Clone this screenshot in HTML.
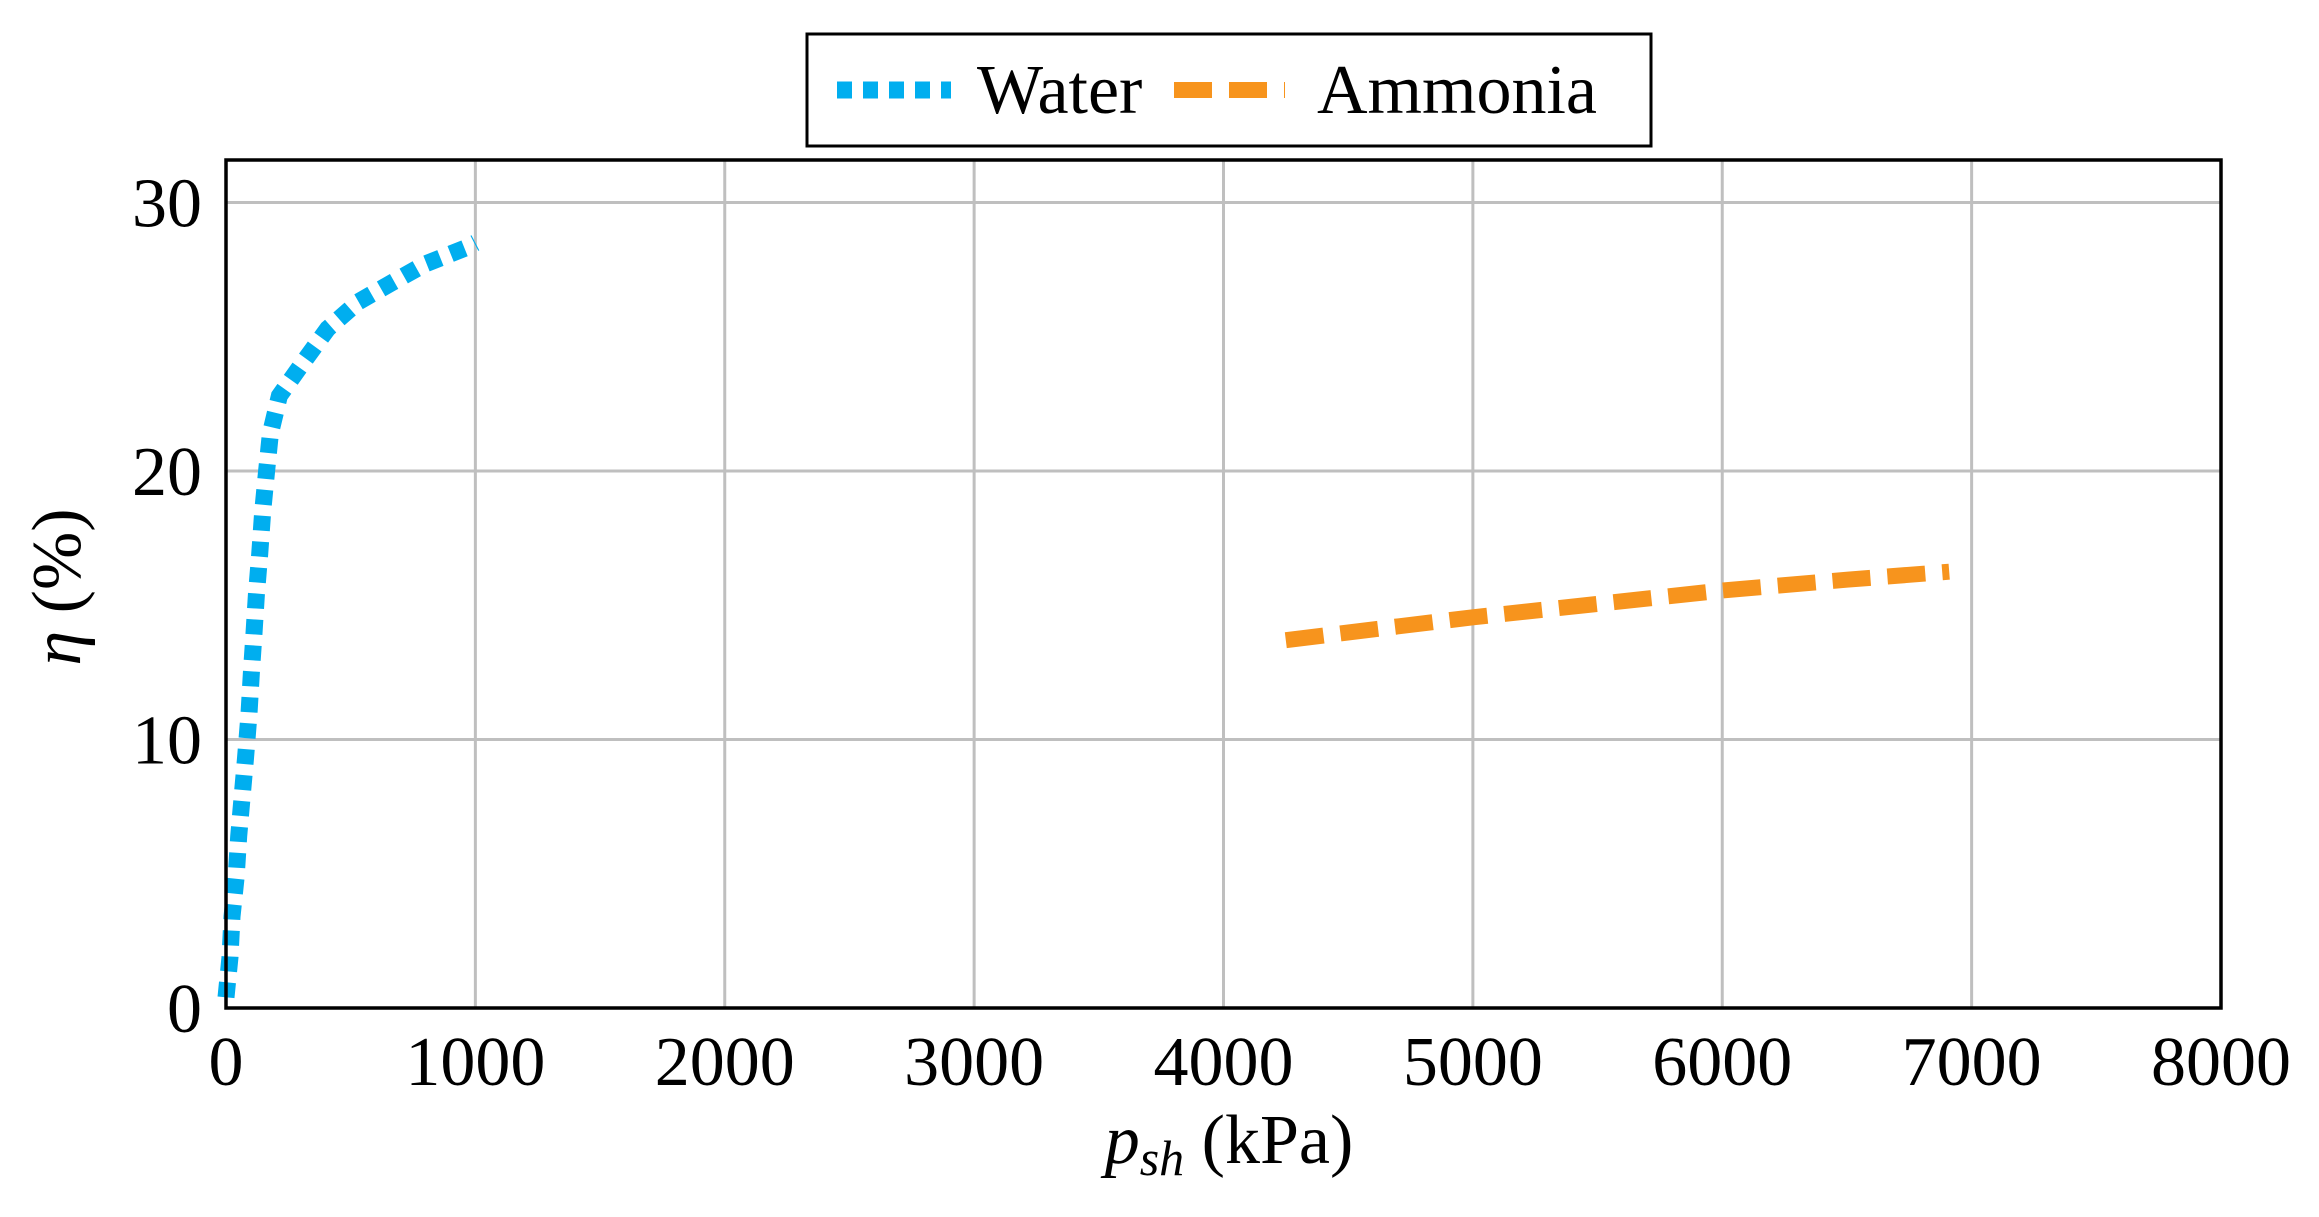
<!DOCTYPE html>
<html><head><meta charset="utf-8"><style>
body{margin:0;background:#fff}
svg{display:block}
text{font-family:"Liberation Serif",serif;fill:#000}
</style></head><body>
<svg id="chart" width="2319" height="1217" viewBox="0 0 2319 1217">
<g id="grid"></g>
<g id="series"></g>
<rect x="226" y="160" width="1995" height="848" fill="none" stroke="#000" stroke-width="3.5"/>
<g id="ticks"></g>
<text x="1229" y="1163" font-size="70" text-anchor="middle"><tspan font-style="italic">p</tspan><tspan font-style="italic" font-size="50" dy="12">sh</tspan><tspan dy="-12"> (kPa)</tspan></text>
<text transform="translate(80,587) rotate(-90)" font-size="70" text-anchor="middle"><tspan font-style="italic">η</tspan> (%)</text>
<g>
<rect x="807" y="34" width="844" height="112" fill="#fff" stroke="#000" stroke-width="3"/>
<line x1="837" y1="90" x2="951" y2="90" stroke="#00aeef" stroke-width="17" stroke-dasharray="15 11"/>
<text x="977" y="113" font-size="70">Water</text>
<line x1="1174" y1="90" x2="1285" y2="90" stroke="#f7941d" stroke-width="16" stroke-dasharray="38 17"/>
<text x="1317" y="113" font-size="70">Ammonia</text>
</g>
</svg>
<script>
const xTicks=[0,1000,2000,3000,4000,5000,6000,7000,8000];
const yTicks=[0,10,20,30];
const waterX=[0,16,24,41,51,65,78,92,102,112,122,135,147,163,178,214,306,408,531,663,796,959,1000];
const waterY=[0.4,1.9,3.4,4.9,6.4,7.9,9.3,10.9,12.5,13.9,15.4,16.9,18.5,20,21.4,22.8,24,25.3,26.3,27,27.7,28.3,28.5];
const ammoniaX=[4250,4600,5000,5500,6000,6500,6910];
const ammoniaY=[13.7,14.1,14.55,15.05,15.55,15.95,16.25];
const X0=226,X1=2221,Y0=1008,Y1=160;
const sx=v=>X0+(v-0)/8000*(X1-X0);
const sy=v=>Y0-v/10*268.5;
const NS='http://www.w3.org/2000/svg';
function mk(tag,attrs,parent){const e=document.createElementNS(NS,tag);for(const k in attrs)e.setAttribute(k,attrs[k]);parent.appendChild(e);return e;}
const grid=document.getElementById('grid'),ticks=document.getElementById('ticks'),series=document.getElementById('series');
xTicks.forEach(t=>{
  if(t>0&&t<8000){const l=mk('line',{x1:sx(t),x2:sx(t),y1:Y1,y2:Y0,stroke:'#bfbfbf','stroke-width':3},grid);
  
  }
  const tx=mk('text',{x:sx(t),y:1085,'font-size':70,'text-anchor':'middle'},ticks);tx.textContent=t;
  
  
});
yTicks.forEach(t=>{
  if(t>0){const l=mk('line',{x1:X0,x2:X1,y1:sy(t),y2:sy(t),stroke:'#bfbfbf','stroke-width':3},grid);
  
  }
  const tx=mk('text',{x:202,y:sy(t)+24,'font-size':70,'text-anchor':'end'},ticks);tx.textContent=t;
  
  
});
function path(xs,ys){return xs.map((x,i)=>(i?'L':'M')+sx(x).toFixed(1)+','+sy(ys[i]).toFixed(1)).join(' ');}
const w=mk('path',{d:path(waterX,waterY),fill:'none',stroke:'#00aeef','stroke-width':17,'stroke-dasharray':'15 11'},series);


const a=mk('path',{d:path(ammoniaX,ammoniaY),fill:'none',stroke:'#f7941d','stroke-width':16,'stroke-dasharray':'38 17'},series);


</script>
</body></html>
